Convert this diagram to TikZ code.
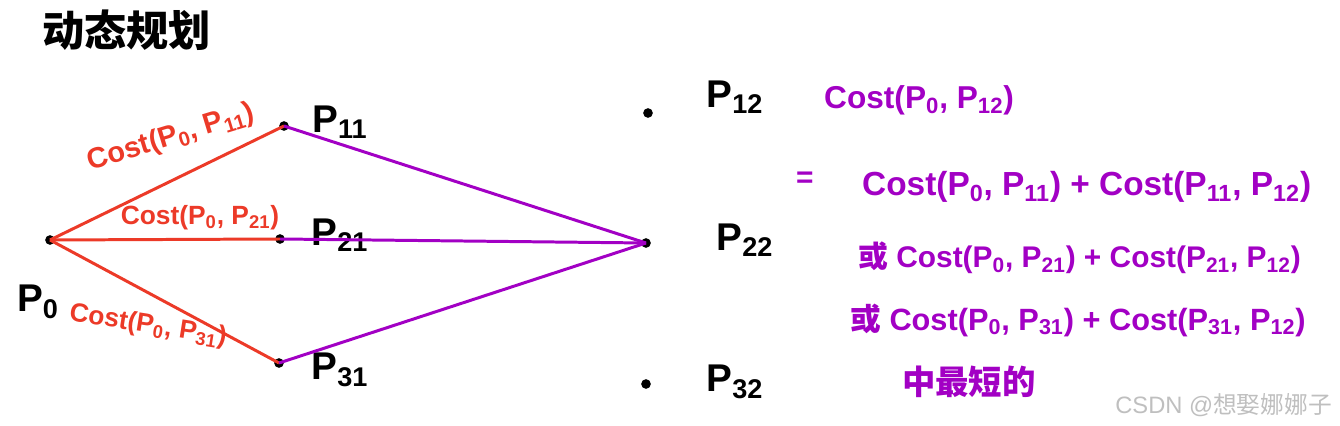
\documentclass[tikz,border=0pt]{standalone}
\usepackage{fontspec}
\setmainfont{Liberation Sans}
\newfontfamily\cjk{Noto Sans CJK SC}
\definecolor{redpen}{RGB}{236,58,40}
\definecolor{purplepen}{RGB}{162,0,196}
\newcommand{\pnt}[1]{P\textsubscript{#1}}
\tikzset{
  dot/.style={circle,fill=black,inner sep=0pt,minimum size=5.5pt},
  redline/.style={redpen,line width=1.7pt},
  purpleline/.style={purplepen,line width=1.7pt},
  redlbl/.style={text=redpen,inner sep=1pt,font=\fontsize{15}{17}\selectfont\bfseries},
  purplbl/.style={text=purplepen,anchor=west,font=\fontsize{17}{20}\selectfont\bfseries},
  ptlbl/.style={font=\fontsize{22}{24}\selectfont\bfseries}
}
\begin{document}
\begin{tikzpicture}[x=0.02cm,y=0.02cm]
\useasboundingbox (0,0) rectangle (1340,426);

% Titre
\node[anchor=west,font=\fontsize{24}{26}\selectfont\cjk\bfseries] (title) at (36,396) {动态规划};

% Points
\node[dot] (p0) at (50,186) {};
\node[dot] (p11) at (284,300) {};
\node[dot] (p21) at (280,187) {};
\node[dot] (p31) at (279,63) {};
\node[dot] (p12) at (648,313) {};
\node[dot] (p22) at (646,183) {};
\node[dot] (p32) at (646,42) {};

\node[ptlbl] (l0) at (38,124) {\pnt{0}};
\node[ptlbl] (l11) at (340,304) {\pnt{11}};
\node[ptlbl] (l21) at (340,191) {\pnt{21}};
\node[ptlbl] (l31) at (340,56) {\pnt{31}};
\node[ptlbl] (l12) at (735,329) {\pnt{12}};
\node[ptlbl] (l22) at (745,186) {\pnt{22}};
\node[ptlbl] (l32) at (735,44) {\pnt{32}};

% Premier pas
\draw[redline] (p0.center) -- (p11.center);
\draw[redline] (p0.center) -- (p21.center);
\draw[redline] (p0.center) -- (p31.center);

\node[redlbl,rotate=17,font=\fontsize{16.5}{18}\selectfont\bfseries] (c11) at (171,288) {Cost(\pnt{0}, \pnt{11})};
\node[redlbl] (c21) at (200,208) {Cost(\pnt{0}, \pnt{21})};
\node[redlbl,rotate=-9] (c31) at (148,100) {Cost(\pnt{0}, \pnt{31})};

% Second pas
\draw[purpleline] (p11.center) -- (p22.center);
\draw[purpleline] (p21.center) -- (p22.center);
\draw[purpleline] (p31.center) -- (p22.center);

% Formule
\node[purplbl,font=\fontsize{18}{20}\selectfont\bfseries] (f0) at (818,326) {Cost(\pnt{0}, \pnt{12})};
\node[purplbl] (eq) at (790,246) {=};
\node[purplbl,font=\fontsize{19}{21}\selectfont\bfseries] (f1) at (856,239) {Cost(\pnt{0}, \pnt{11}) + Cost(\pnt{11}, \pnt{12})};
\node[purplbl] (f2) at (852,168) {{\cjk 或} Cost(\pnt{0}, \pnt{21}) + Cost(\pnt{21}, \pnt{12})};
\node[purplbl,font=\fontsize{17.5}{20}\selectfont\bfseries] (f3) at (844,106) {{\cjk 或} Cost(\pnt{0}, \pnt{31}) + Cost(\pnt{31}, \pnt{12})};
\node[purplbl,font=\fontsize{19}{21}\selectfont\cjk\bfseries] (f4) at (896,44) {中最短的};

\node[anchor=east,text=black!25,font=\fontsize{13.5}{15}\selectfont] (wm) at (1338,21) {CSDN @{\cjk 想娶娜娜子}};

\end{tikzpicture}
\end{document}
